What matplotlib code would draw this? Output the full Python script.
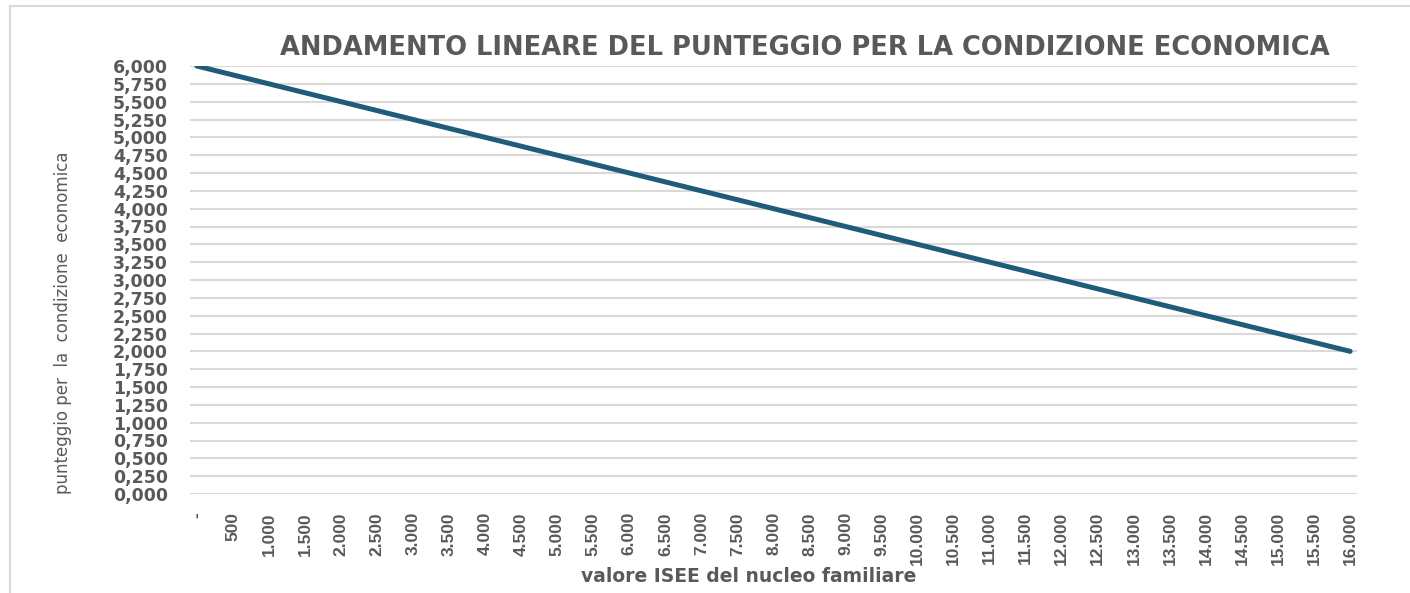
import matplotlib.pyplot as plt
from matplotlib.patches import Rectangle

# ISEE values (categories) and score
isee = [0, 500, 1000, 1500, 2000, 2500, 3000, 3500, 4000, 4500, 5000, 5500,
        6000, 6500, 7000, 7500, 8000, 8500, 9000, 9500, 10000, 10500, 11000,
        11500, 12000, 12500, 13000, 13500, 14000, 14500, 15000, 15500, 16000]
punteggio = [6.000, 5.875, 5.750, 5.625, 5.500, 5.375, 5.250, 5.125, 5.000,
             4.875, 4.750, 4.625, 4.500, 4.375, 4.250, 4.125, 4.000, 3.875,
             3.750, 3.625, 3.500, 3.375, 3.250, 3.125, 3.000, 2.875, 2.750,
             2.625, 2.500, 2.375, 2.250, 2.125, 2.000]
x_labels = ["-"] + [f"{v:,}".replace(",", ".") for v in isee[1:]]
y_ticks = [i * 0.25 for i in range(25)]
y_labels = [f"{v:.3f}".replace(".", ",") for v in y_ticks]

plt.rcParams['font.family'] = ['DejaVu Sans']
grey = "#595959"

fig = plt.figure(figsize=(14.1, 5.93), dpi=100)
ax = fig.add_axes([190 / 1410, 1 - 494 / 593, (1357 - 190) / 1410, (494 - 66) / 593])

pos = list(range(len(isee)))
ax.plot(pos, punteggio, color="#1E5C7A", linewidth=3.6, solid_capstyle="round")

ax.set_xlim(-0.19, 32.19)
ax.set_ylim(0, 6)
ax.set_yticks(y_ticks)
ax.set_yticklabels(y_labels, fontsize=12.5, fontweight="bold", color=grey)
ax.set_xticks(pos)
ax.set_xticklabels(x_labels, rotation=90, fontsize=12.5, fontweight="bold",
                   color=grey, family="Liberation Sans")
ax.tick_params(length=0, axis="y", pad=16)
ax.tick_params(length=0, axis="x", pad=13)
ax.grid(axis="y", color="#D9D9D9", linewidth=1.5)
ax.set_axisbelow(True)
for s in ax.spines.values():
    s.set_visible(False)

fig.text(805 / 1410, 1 - 48 / 593, "ANDAMENTO LINEARE DEL PUNTEGGIO PER LA CONDIZIONE ECONOMICA",
         ha="center", va="center", fontsize=18.5, fontweight="bold", color=grey)
fig.text(749 / 1410, 1 - 577 / 593, "valore ISEE del nucleo familiare",
         ha="center", va="center", fontsize=13.5, fontweight="bold", color=grey)
fig.text(63 / 1410, 1 - 323 / 593, "punteggio per  la  condizione  economica",
         ha="center", va="center", rotation=90, fontsize=12, color=grey)

# outer frame
fig.patches.append(Rectangle((10 / 1410, -0.05), 1.1, 1 - 6 / 593 + 0.05,
                             transform=fig.transFigure, fill=False,
                             edgecolor="#D9D9D9", linewidth=1.5))

fig.savefig("out.png", dpi=100)
